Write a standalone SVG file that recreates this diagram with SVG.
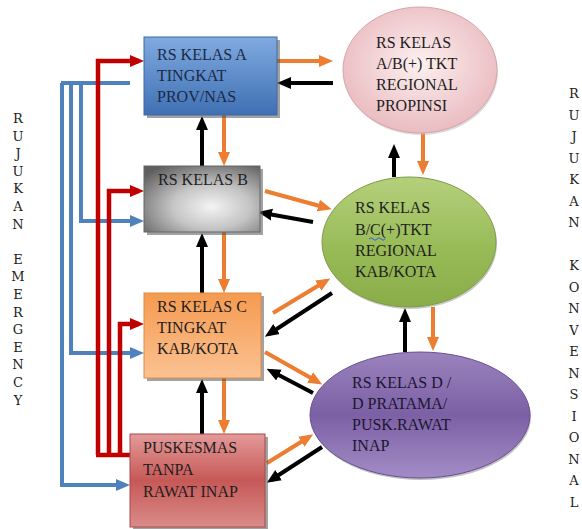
<svg xmlns="http://www.w3.org/2000/svg" width="582" height="529" viewBox="0 0 582 529">
<style>
.t{font-family:"Liberation Serif","Times New Roman",serif;font-size:16px;fill:#1e1e1e}
.v{font-family:"DejaVu Serif","Liberation Serif",serif;font-size:13px;fill:#222;text-anchor:middle}
.o{stroke:#ed7d31;stroke-width:4;fill:none}
.k{stroke:#000;stroke-width:4;fill:none}
.b{stroke:#4f81bd;stroke-width:4;fill:none}
.r{stroke:#c00000;stroke-width:4.5;fill:none}
.sh{fill:#555;opacity:.55}
</style>
<defs>
<marker id="mo" markerUnits="userSpaceOnUse" markerWidth="14" markerHeight="14" viewBox="0 0 14 14" refX="9" refY="7" orient="auto"><path d="M0,1 L14,7 L0,13 z" fill="#ed7d31"/></marker>
<marker id="mk" markerUnits="userSpaceOnUse" markerWidth="14" markerHeight="14" viewBox="0 0 14 14" refX="9" refY="7" orient="auto"><path d="M0,1 L14,7 L0,13 z" fill="#000"/></marker>
<marker id="mb" markerUnits="userSpaceOnUse" markerWidth="14" markerHeight="14" viewBox="0 0 14 14" refX="9" refY="7" orient="auto"><path d="M0,1 L14,7 L0,13 z" fill="#4f81bd"/></marker>
<marker id="mr" markerUnits="userSpaceOnUse" markerWidth="14" markerHeight="14" viewBox="0 0 14 14" refX="9" refY="7" orient="auto"><path d="M0,1 L14,7 L0,13 z" fill="#c00000"/></marker>
<linearGradient id="gA" x1="0" y1="0" x2="0" y2="1"><stop offset="0" stop-color="#80aae0"/><stop offset="1" stop-color="#3f70b4"/></linearGradient>
<radialGradient id="gB" cx="0.58" cy="0.62" r="0.75"><stop offset="0" stop-color="#f4f4f4"/><stop offset="0.45" stop-color="#c4c4c4"/><stop offset="1" stop-color="#5e5e5e"/></radialGradient>
<linearGradient id="gC" x1="0" y1="0" x2="0" y2="1"><stop offset="0" stop-color="#f59a50"/><stop offset="1" stop-color="#fbc292"/></linearGradient>
<linearGradient id="gP" x1="0" y1="0" x2="0" y2="1"><stop offset="0" stop-color="#e39a99"/><stop offset="0.5" stop-color="#c65957"/><stop offset="1" stop-color="#da8b89"/></linearGradient>
<radialGradient id="gE1" cx="0.5" cy="0.45" r="0.6"><stop offset="0" stop-color="#fdf0f0"/><stop offset="1" stop-color="#e8b7bc"/></radialGradient>
<linearGradient id="gE2" x1="0" y1="0" x2="0" y2="1"><stop offset="0" stop-color="#b5d07c"/><stop offset="0.55" stop-color="#98bb57"/><stop offset="1" stop-color="#8aad4a"/></linearGradient>
<linearGradient id="gE3" x1="0" y1="0" x2="0" y2="1"><stop offset="0" stop-color="#9a83bd"/><stop offset="0.5" stop-color="#7c60a5"/><stop offset="1" stop-color="#a28cc6"/></linearGradient>
</defs>

<g id="connectors">
<path class="b" d="M130 83 H61"/>
<path class="b" d="M81 83 V221 H139" marker-end="url(#mb)"/>
<path class="b" d="M71 83 V353 H139" marker-end="url(#mb)"/>
<path class="b" d="M62 83 V485 H125" marker-end="url(#mb)"/>
<path class="r" d="M96 455 H130"/>
<path class="r" d="M98 455 V61 H139" marker-end="url(#mr)"/>
<path class="r" d="M109 455 V191 H139" marker-end="url(#mr)"/>
<path class="r" d="M120 455 V324 H139" marker-end="url(#mr)"/>
<path class="k" d="M202 166 V121" marker-end="url(#mk)"/>
<path class="k" d="M202 293 V238" marker-end="url(#mk)"/>
<path class="k" d="M202 434 V384" marker-end="url(#mk)"/>
<path class="o" d="M224 115 V161" marker-end="url(#mo)"/>
<path class="o" d="M224 232 V288" marker-end="url(#mo)"/>
<path class="o" d="M224 378 V429" marker-end="url(#mo)"/>
<path class="o" d="M277 61 H328" marker-end="url(#mo)"/>
<path class="k" d="M333 83 H282" marker-end="url(#mk)"/>
<path class="k" d="M394 177 V149" marker-end="url(#mk)"/>
<path class="o" d="M423 133 V170" marker-end="url(#mo)"/>
<path class="o" d="M433 307 V346" marker-end="url(#mo)"/>
<path class="k" d="M405 352 V313" marker-end="url(#mk)"/>
<path class="o" d="M265 191 L327 208" marker-end="url(#mo)"/>
<path class="k" d="M313 222 L263 213" marker-end="url(#mk)"/>
<path class="o" d="M273 313 L326 281" marker-end="url(#mo)"/>
<path class="k" d="M332 293 L269 334" marker-end="url(#mk)"/>
<path class="o" d="M265 352 L318 382" marker-end="url(#mo)"/>
<path class="k" d="M313 393 L271 371" marker-end="url(#mk)"/>
<path class="o" d="M267 463 L309 437" marker-end="url(#mo)"/>
<path class="k" d="M322 447 L271 480" marker-end="url(#mk)"/>
</g>

<g id="rsA">
<rect class="sh" x="147" y="40" width="133" height="78"/>
<rect x="144" y="37" width="133" height="78" fill="url(#gA)" stroke="#3d68a6" stroke-width="1"/>
<text class="t" x="157" y="60" style="fill:#1b2944">RS KELAS A</text>
<text class="t" x="157" y="81" style="fill:#1b2944">TINGKAT</text>
<text class="t" x="157" y="102" style="fill:#1b2944">PROV/NAS</text>
</g>

<g id="rsB">
<rect class="sh" x="147" y="169" width="116" height="66"/>
<rect x="144" y="166" width="116" height="66" fill="url(#gB)" stroke="#666" stroke-width="1"/>
<text class="t" x="158" y="185">RS KELAS B</text>
</g>

<g id="rsC">
<rect class="sh" x="147" y="296" width="117" height="85"/>
<rect x="144" y="293" width="117" height="85" fill="url(#gC)" stroke="#e08a45" stroke-width="1"/>
<text class="t" x="157" y="312">RS KELAS C</text>
<text class="t" x="157" y="333">TINGKAT</text>
<text class="t" x="157" y="354">KAB/KOTA</text>
</g>

<g id="puskesmas">
<rect class="sh" x="133" y="437" width="135" height="92"/>
<rect x="130" y="434" width="135" height="93" fill="url(#gP)" stroke="#a84a48" stroke-width="1"/>
<text class="t" x="143" y="453">PUSKESMAS</text>
<text class="t" x="143" y="475">TANPA</text>
<text class="t" x="143" y="497">RAWAT INAP</text>
</g>

<g id="regProp">
<ellipse cx="421" cy="72" rx="77" ry="63" fill="#bbb" opacity=".5"/>
<ellipse cx="420" cy="70" rx="77" ry="63" fill="url(#gE1)" stroke="#d7a3a9" stroke-width="1"/>
<text class="t" x="376" y="48">RS KELAS</text>
<text class="t" x="376" y="69">A/B(+) TKT</text>
<text class="t" x="376" y="90">REGIONAL</text>
<text class="t" x="376" y="111">PROPINSI</text>
</g>

<g id="regKab">
<ellipse cx="410" cy="244" rx="87" ry="65" fill="#888" opacity=".45"/>
<ellipse cx="409" cy="242" rx="87" ry="65" fill="url(#gE2)" stroke="#7d9c47" stroke-width="1"/>
<text class="t" x="355" y="213">RS KELAS</text>
<text class="t" x="355" y="235">B/C(+)TKT</text>
<path d="M369 239 q2 -2.5 4 0 t4 0 t4 0 t4 0" stroke="#3b5bd6" stroke-width="1" fill="none"/>
<text class="t" x="355" y="256">REGIONAL</text>
<text class="t" x="355" y="277">KAB/KOTA</text>
</g>

<g id="rsD">
<ellipse cx="421" cy="417" rx="110" ry="63" fill="#777" opacity=".45"/>
<ellipse cx="420" cy="415" rx="110" ry="63" fill="url(#gE3)" stroke="#6a4f92" stroke-width="1"/>
<text class="t" x="352" y="388" style="fill:#1d1630">RS KELAS D /</text>
<text class="t" x="352" y="409" style="fill:#1d1630">D PRATAMA/</text>
<text class="t" x="352" y="430" style="fill:#1d1630">PUSK.RAWAT</text>
<text class="t" x="352" y="451" style="fill:#1d1630">INAP</text>
</g>

<g id="label-emergency">
<text class="v"><tspan x="18" y="123">R</tspan><tspan x="18" y="140.6">U</tspan><tspan x="18" y="158.2">J</tspan><tspan x="18" y="175.8">U</tspan><tspan x="18" y="193.4">K</tspan><tspan x="18" y="211">A</tspan><tspan x="18" y="228.6">N</tspan><tspan x="18" y="263.8">E</tspan><tspan x="18" y="281.4">M</tspan><tspan x="18" y="299">E</tspan><tspan x="18" y="316.6">R</tspan><tspan x="18" y="334.2">G</tspan><tspan x="18" y="351.8">E</tspan><tspan x="18" y="369.4">N</tspan><tspan x="18" y="387">C</tspan><tspan x="18" y="404.6">Y</tspan></text>
</g>

<g id="label-konvensional">
<text class="v"><tspan x="574" y="98">R</tspan><tspan x="574" y="119.5">U</tspan><tspan x="574" y="141">J</tspan><tspan x="574" y="162.5">U</tspan><tspan x="574" y="184">K</tspan><tspan x="574" y="205.5">A</tspan><tspan x="574" y="227">N</tspan><tspan x="574" y="270">K</tspan><tspan x="574" y="291.5">O</tspan><tspan x="574" y="313">N</tspan><tspan x="574" y="334.5">V</tspan><tspan x="574" y="356">E</tspan><tspan x="574" y="377.5">N</tspan><tspan x="574" y="399">S</tspan><tspan x="574" y="420.5">I</tspan><tspan x="574" y="442">O</tspan><tspan x="574" y="463.5">N</tspan><tspan x="574" y="485">A</tspan><tspan x="574" y="506.5">L</tspan></text>
</g>
</svg>
